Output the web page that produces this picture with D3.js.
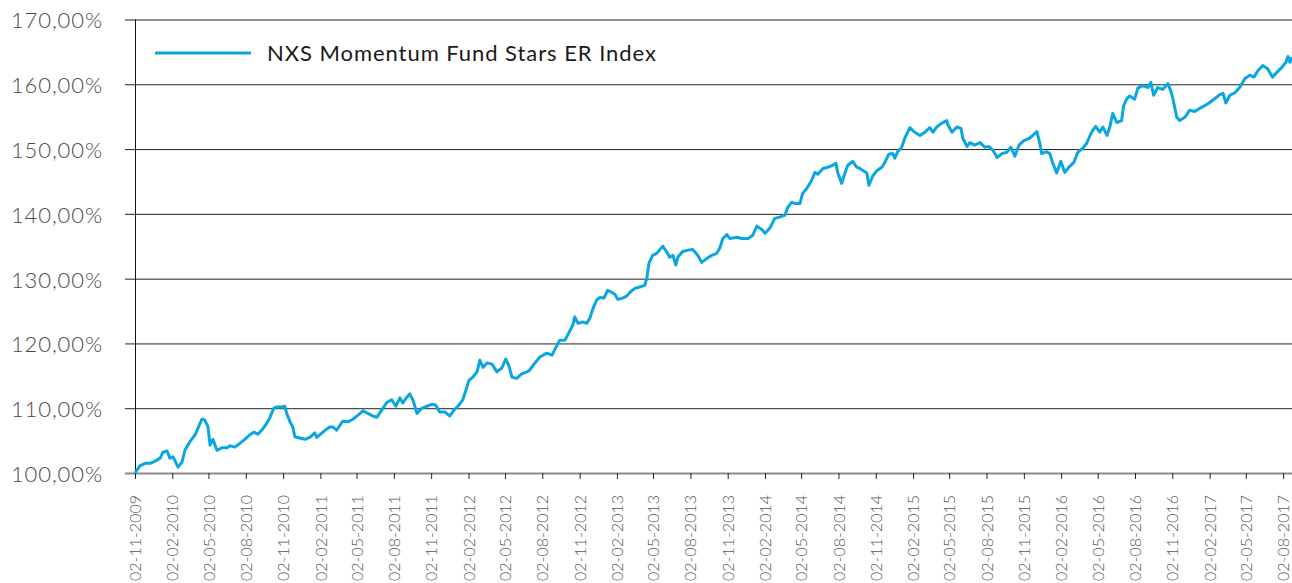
<!DOCTYPE html>
<html>
<head>
<meta charset="utf-8">
<script src="https://cdn.jsdelivr.net/npm/d3@7"></script>
<style>
  html, body { margin: 0; padding: 0; background: #fff; }
  svg { display: block; font-family: Lato, "Open Sans", sans-serif; }
</style>
</head>
<body>
<div id="chart"></div>
<script>
const seriesName = 'NXS Momentum Fund Stars ER Index';

const dates = [
  '2009-11-02','2009-11-14','2009-11-27','2009-12-09','2009-12-21','2010-01-03','2010-01-10','2010-01-20','2010-01-27','2010-02-04',
  '2010-02-16','2010-02-26','2010-03-05','2010-03-17','2010-03-30','2010-04-06','2010-04-16','2010-04-23','2010-05-01','2010-05-06',
  '2010-05-13','2010-05-23','2010-06-04','2010-06-17','2010-06-24','2010-07-06','2010-07-19','2010-07-31','2010-08-12','2010-08-22',
  '2010-09-01','2010-09-13','2010-09-23','2010-09-30','2010-10-10','2010-10-18','2010-10-30','2010-11-06','2010-11-11','2010-11-19',
  '2010-11-26','2010-12-01','2010-12-13','2010-12-26','2011-01-07','2011-01-19','2011-01-24','2011-02-06','2011-02-18','2011-02-25',
  '2011-03-05','2011-03-14','2011-03-29','2011-04-11','2011-04-23','2011-05-05','2011-05-18','2011-05-30','2011-06-11','2011-06-21',
  '2011-07-03','2011-07-16','2011-07-28','2011-08-07','2011-08-17','2011-08-24','2011-09-03','2011-09-10','2011-09-18','2011-09-28',
  '2011-10-10','2011-10-22','2011-11-04','2011-11-13','2011-11-23','2011-12-06','2011-12-18','2011-12-28','2012-01-07','2012-01-19',
  '2012-01-27','2012-02-03','2012-02-13','2012-02-23','2012-03-01','2012-03-09','2012-03-19','2012-03-31','2012-04-12','2012-04-24',
  '2012-05-04','2012-05-12','2012-05-19','2012-05-31','2012-06-12','2012-06-25','2012-07-02','2012-07-15','2012-07-27','2012-08-13',
  '2012-08-26','2012-09-07','2012-09-14','2012-09-27','2012-10-06','2012-10-16','2012-10-21','2012-10-29','2012-11-10','2012-11-20',
  '2012-11-27','2012-12-05','2012-12-14','2012-12-22','2013-01-01','2013-01-10','2013-01-20','2013-01-28','2013-02-04','2013-02-16',
  '2013-02-26','2013-03-06','2013-03-18','2013-03-30','2013-04-12','2013-04-17','2013-04-22','2013-05-01','2013-05-11','2013-05-26',
  '2013-06-05','2013-06-12','2013-06-20','2013-06-27','2013-07-02','2013-07-14','2013-07-27','2013-08-08','2013-08-20','2013-08-30',
  '2013-09-11','2013-09-24','2013-10-06','2013-10-14','2013-10-21','2013-10-31','2013-11-07','2013-11-25','2013-12-07','2013-12-22',
  '2014-01-03','2014-01-13','2014-01-25','2014-02-02','2014-02-14','2014-02-26','2014-03-10','2014-03-23','2014-03-30','2014-04-09',
  '2014-04-16','2014-04-29','2014-05-06','2014-05-16','2014-05-28','2014-06-05','2014-06-12','2014-06-25','2014-07-07','2014-07-19',
  '2014-07-27','2014-07-31','2014-08-10','2014-08-18','2014-08-25','2014-09-06','2014-09-16','2014-09-24','2014-10-01','2014-10-11',
  '2014-10-16','2014-10-26','2014-11-05','2014-11-17','2014-11-24','2014-12-04','2014-12-14','2014-12-19','2014-12-26','2015-01-05',
  '2015-01-12','2015-01-25','2015-02-06','2015-02-19','2015-03-03','2015-03-15','2015-03-23','2015-04-01','2015-04-14','2015-04-26',
  '2015-04-29','2015-05-09','2015-05-21','2015-05-31','2015-06-05','2015-06-15','2015-06-22','2015-07-04','2015-07-17','2015-07-29',
  '2015-08-08','2015-08-18','2015-08-28','2015-09-09','2015-09-21','2015-10-01','2015-10-11','2015-10-21','2015-11-02','2015-11-14',
  '2015-11-24','2015-12-04','2015-12-11','2015-12-16','2015-12-28','2016-01-05','2016-01-12','2016-01-22','2016-02-01','2016-02-11',
  '2016-02-21','2016-03-04','2016-03-14','2016-03-26','2016-04-05','2016-04-17','2016-04-27','2016-05-07','2016-05-15','2016-05-25',
  '2016-06-01','2016-06-08','2016-06-18','2016-06-30','2016-07-05','2016-07-13','2016-07-20','2016-08-01','2016-08-09','2016-08-21',
  '2016-09-03','2016-09-10','2016-09-17','2016-09-27','2016-10-09','2016-10-22','2016-10-29','2016-11-03','2016-11-13','2016-11-20',
  '2016-12-03','2016-12-15','2016-12-27','2017-01-09','2017-01-21','2017-02-02','2017-02-15','2017-02-27','2017-03-07','2017-03-14',
  '2017-03-24','2017-04-05','2017-04-17','2017-04-30','2017-05-12','2017-05-22','2017-06-01','2017-06-13','2017-06-25','2017-07-07',
  '2017-07-17','2017-07-30','2017-08-09','2017-08-14','2017-08-19','2017-08-24'
];

const values = [
  100.0,101.1,101.5,101.5,101.8,102.3,103.2,103.4,102.3,102.5,
  100.9,101.7,103.5,104.8,105.9,106.9,108.3,108.2,107.1,104.3,
  105.2,103.5,103.9,103.9,104.2,104.0,104.6,105.2,105.9,106.3,
  106.0,106.8,107.7,108.5,110.0,110.2,110.2,110.3,109.2,107.9,
  107.1,105.6,105.4,105.2,105.5,106.2,105.5,106.2,106.8,107.1,
  107.1,106.6,108.0,107.9,108.3,108.9,109.6,109.2,108.8,108.6,
  109.7,110.9,111.3,110.3,111.6,110.8,111.7,112.2,111.3,109.2,
  110.0,110.3,110.6,110.5,109.4,109.4,108.8,109.7,110.3,111.3,
  112.8,114.3,114.8,115.6,117.4,116.3,117.0,116.8,115.6,116.2,
  117.6,116.5,114.8,114.6,115.3,115.6,115.9,117.0,117.9,118.5,
  118.2,119.7,120.5,120.5,121.6,122.8,124.1,123.1,123.3,123.1,
  123.9,125.4,126.7,127.1,127.0,128.2,127.9,127.6,126.8,127.0,
  127.3,127.9,128.5,128.7,129.0,130.2,132.4,133.6,133.9,135.0,
  134.1,133.3,133.6,132.1,133.3,134.2,134.4,134.5,133.6,132.5,
  133.1,133.6,133.9,134.8,136.2,136.8,136.2,136.4,136.2,136.2,
  136.7,138.1,137.6,137.0,137.8,139.3,139.5,139.8,141.0,141.8,
  141.6,141.6,143.2,143.9,145.2,146.4,146.1,147.0,147.2,147.5,
  147.8,146.4,144.7,146.3,147.5,148.1,147.2,147.0,146.7,146.3,
  144.4,145.9,146.7,147.2,147.9,149.2,149.3,148.6,149.6,150.3,
  151.6,153.3,152.6,152.1,152.6,153.3,152.6,153.4,154.0,154.4,
  153.7,152.6,153.4,153.2,151.6,150.4,151.0,150.6,151.0,150.3,
  150.4,149.8,148.7,149.3,149.5,150.3,148.9,150.6,151.3,151.6,
  152.1,152.7,151.0,149.3,149.6,149.3,147.9,146.3,148.1,146.4,
  147.2,147.9,149.5,150.1,150.9,152.6,153.5,152.6,153.4,152.1,
  153.4,155.5,154.1,154.4,156.7,157.8,158.2,157.7,159.4,159.8,
  159.5,160.3,158.3,159.5,159.2,160.1,159.0,157.9,154.9,154.4,
  154.9,156.0,155.8,156.3,156.7,157.2,157.8,158.4,158.6,157.1,
  158.3,158.7,159.5,160.9,161.4,161.1,162.1,162.9,162.4,161.1,
  161.8,162.6,163.4,164.3,163.4,164.2
];

const yTicks = [100, 110, 120, 130, 140, 150, 160, 170];

const xTickLabels = [
  '02-11-2009','02-02-2010','02-05-2010','02-08-2010','02-11-2010','02-02-2011','02-05-2011','02-08-2011',
  '02-11-2011','02-02-2012','02-05-2012','02-08-2012','02-11-2012','02-02-2013','02-05-2013','02-08-2013',
  '02-11-2013','02-02-2014','02-05-2014','02-08-2014','02-11-2014','02-02-2015','02-05-2015','02-08-2015',
  '02-11-2015','02-02-2016','02-05-2016','02-08-2016','02-11-2016','02-02-2017','02-05-2017','02-08-2017'
];

const W = 1292, H = 583;
const margin = { left: 135, right: 1292, top: 19.5, bottom: 473 };

const parseIso = d3.timeParse('%Y-%m-%d');
const parseTick = d3.timeParse('%d-%m-%Y');
const data = dates.map((d, i) => ({ date: parseIso(d), value: values[i] }));
const tickDates = xTickLabels.map(parseTick);

const svg = d3.select('#chart').append('svg')
  .attr('width', W)
  .attr('height', H);

const x = d3.scaleTime()
  .domain([parseIso('2009-11-02'), parseIso('2017-08-24')])
  .range([margin.left, margin.right]);

const y = d3.scaleLinear()
  .domain([100, 170])
  .range([margin.bottom, margin.top]);

const fmt = v => d3.format('.2f')(v).replace('.', ',') + '%';

// gridlines + y labels
const yAxis = svg.append('g')
  .attr('transform', `translate(${margin.left},0)`)
  .call(d3.axisLeft(y).tickValues(yTicks).tickSize(-(margin.right - margin.left)).tickPadding(32).tickFormat(fmt));
yAxis.select('.domain').remove();
yAxis.selectAll('.tick line')
  .attr('x1', -10)
  .attr('stroke', d => d === 100 ? '#8a8a8a' : '#222')
  .attr('stroke-width', d => d === 100 ? 2 : 1);
yAxis.selectAll('.tick text')
  .attr('fill', '#4a4a4a')
  .attr('dy', '0.38em')
  .style('font-size', '22px')
  .style('letter-spacing', '0.9px')
  .style('font-weight', 300)
  .style('font-family', 'Lato, sans-serif');

// vertical axis line
svg.append('line')
  .attr('x1', margin.left + 0.5).attr('x2', margin.left + 0.5)
  .attr('y1', y(170)).attr('y2', y(100))
  .attr('stroke', '#111')
  .attr('stroke-width', 1);

// x axis
const xAxis = svg.append('g')
  .attr('transform', `translate(0,${margin.bottom})`)
  .call(d3.axisBottom(x).tickValues(tickDates).tickSize(6).tickPadding(4).tickFormat((d, i) => xTickLabels[i]));
xAxis.select('.domain').remove();
xAxis.selectAll('.tick line').attr('stroke', '#222');
xAxis.selectAll('.tick text')
  .attr('fill', '#555')
  .attr('transform', 'rotate(-90)')
  .attr('text-anchor', 'end')
  .attr('x', -22)
  .attr('y', 0)
  .attr('dy', '0.35em')
  .style('font-size', '16px')
  .style('font-weight', 300)
  .style('font-family', 'Lato, sans-serif');

// series line
const line = d3.line()
  .x(d => x(d.date))
  .y(d => y(d.value));

svg.append('path')
  .datum(data)
  .attr('fill', 'none')
  .attr('stroke', '#0aa6df')
  .attr('stroke-width', 3)
  .attr('stroke-linejoin', 'round')
  .attr('d', line);

// legend
const legend = svg.append('g').attr('transform', 'translate(155,53)');
legend.append('line')
  .attr('x1', 0).attr('x2', 96)
  .attr('stroke', '#0aa6df')
  .attr('stroke-width', 3);
legend.append('text')
  .attr('x', 112)
  .attr('dy', '0.35em')
  .attr('fill', '#1a1a1a')
  .style('font-size', '22px')
  .style('letter-spacing', '0.95px')
  .style('font-family', 'Lato, sans-serif')
  .text(seriesName);
</script>
</body>
</html>
